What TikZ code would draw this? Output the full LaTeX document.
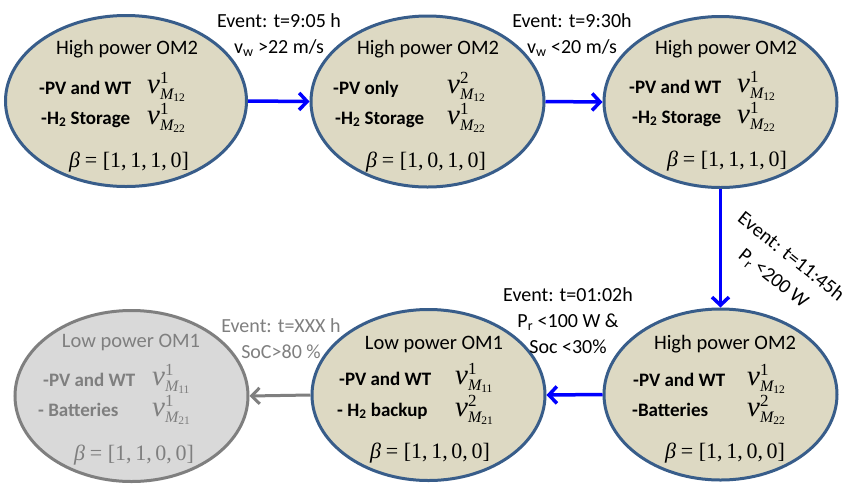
\documentclass[tikz,border=0pt]{standalone}
\usepackage{fontspec}
\setmainfont{Carlito}
\newfontfamily\tms{Liberation Serif}
\usetikzlibrary{shapes.geometric,arrows.meta}
\definecolor{omfill}{RGB}{221,217,195}
\definecolor{omborder}{RGB}{56,93,138}
\definecolor{grayfill}{RGB}{217,217,217}
\definecolor{grayborder}{RGB}{127,127,127}
\definecolor{graytext}{RGB}{127,127,127}
\definecolor{arrowblue}{RGB}{0,0,255}
% v^{sup}_{M_{sub}} in a Times-like face
\newcommand\omv[2]{$\mbox{\fontsize{29}{29}\selectfont\tms\itshape v}%
  ^{\mbox{\fontsize{17}{17}\selectfont\tms #1}}%
  _{\mbox{\fontsize{16}{16}\selectfont\tms\itshape M}_{\mbox{\fontsize{11.5}{11.5}\selectfont\tms #2}}}$}
\newcommand\ombeta[1]{{\tms\itshape β} {\tms = [#1]}}
\tikzset{
  om/.style={ellipse, draw=omborder, fill=omfill, line width=3pt,
    minimum width=233pt, minimum height=171pt, inner sep=0pt},
  omgray/.style={om, draw=grayborder, fill=grayfill},
  ttl/.style={anchor=base, inner sep=0pt, font=\fontsize{20.5}{24}\selectfont},
  lbl/.style={anchor=base west, inner sep=0pt, font=\bfseries\fontsize{19}{23}\selectfont},
  vterm/.style={anchor=base west, inner sep=0pt, font=\fontsize{23}{28}\selectfont},
  betat/.style={anchor=base, inner sep=0pt, font=\fontsize{22}{26}\selectfont},
  evt/.style={align=center, inner sep=0pt, font=\fontsize{20}{26}\selectfont},
  tr/.style={line width=3.5pt, draw=arrowblue, -{Straight Barb[length=8pt,width=17pt]}},
  trgray/.style={line width=3pt, draw=grayborder, -{Straight Barb[length=8pt,width=16pt]}},
}
\begin{document}
\begin{tikzpicture}[x=1pt,y=-1pt]
\useasboundingbox[fill=white] (0,0) rectangle (847,483);
% ellipses
\node[om, minimum width=241pt] (e1) at (126,101) {};
\node[om] (e2) at (427.5,101.5) {};
\node[om] (e3) at (720.5,102) {};
\node[om] (e4) at (720.5,394.5) {};
\node[om] (e5) at (428.5,395) {};
\node[omgray] (e6) at (131.5,396) {};
% transitions
\draw[tr] (e1.east) -- (e2.west);
\draw[tr] (e2.east) -- (e3.west);
\draw[tr] (e3.south) -- (e4.north);
\draw[tr] (e4.west) -- (e5.east);
\draw[trgray] (e5.west) -- (e6.east);
% event labels
\node[evt] (ev1) at (279,35) {Event: t=9:05 h\\v\textsubscript{w} >22 m/s};
\node[evt] (ev2) at (572,35) {Event: t=9:30h\\v\textsubscript{w} <20 m/s};
\node[evt, rotate=-38.5, font=\fontsize{20}{28}\selectfont] (ev3) at (782,268) {Event: t=11:45h\\P\textsubscript{r} <200 W};
\node[evt] (ev4) at (568,321) {Event: t=01:02h\\P\textsubscript{r} <100 W \&\\Soc <30\%};
\node[evt, text=graytext] (ev5) at (281,339) {Event: t=XXX h\\SoC>80 \%};
% e1
\node[ttl] (e1t) at (127,54) {High power OM2};
\node[lbl] (e1a) at (39,94) {-PV and WT};
\node[vterm] (e1av) at (147,93) {\omv{1}{12}};
\node[lbl] (e1b) at (41,124) {-H\textsubscript{2} Storage};
\node[vterm] (e1bv) at (147,124) {\omv{1}{22}};
\node[betat] (e1c) at (129,167) {\ombeta{1,\,1,\,1,\,0}};
% e2
\node[ttl] (e2t) at (428,54) {High power OM2};
\node[lbl] (e2a) at (333,94) {-PV only};
\node[vterm] (e2av) at (447,93) {\omv{2}{12}};
\node[lbl] (e2b) at (335,124) {-H\textsubscript{2} Storage};
\node[vterm] (e2bv) at (447,124) {\omv{1}{22}};
\node[betat] (e2c) at (426,167) {\ombeta{1,\,0,\,1,\,0}};
% e3
\node[ttl] (e3t) at (726,54) {High power OM2};
\node[lbl] (e3a) at (629,93) {-PV and WT};
\node[vterm] (e3av) at (737,92) {\omv{1}{12}};
\node[lbl] (e3b) at (632,123) {-H\textsubscript{2} Storage};
\node[vterm] (e3bv) at (737,123) {\omv{1}{22}};
\node[betat] (e3c) at (727,166) {\ombeta{1,\,1,\,1,\,0}};
% e4
\node[ttl] (e4t) at (725,349) {High power OM2};
\node[lbl] (e4a) at (633,386) {-PV and WT};
\node[vterm] (e4av) at (747,385) {\omv{1}{12}};
\node[lbl] (e4b) at (632,416) {-Batteries};
\node[vterm] (e4bv) at (747,416) {\omv{2}{22}};
\node[betat] (e4c) at (725,458) {\ombeta{1,\,1,\,0,\,0}};
% e5
\node[ttl] (e5t) at (434,349) {Low power OM1};
\node[lbl] (e5a) at (339,385) {-PV and WT};
\node[vterm] (e5av) at (455,384) {\omv{1}{11}};
\node[lbl] (e5b) at (337,416) {- H\textsubscript{2} backup};
\node[vterm] (e5bv) at (455,416) {\omv{2}{21}};
\node[betat] (e5c) at (430,458) {\ombeta{1,\,1,\,0,\,0}};
% e6 (gray)
\begin{scope}[text=graytext]
\node[ttl] (e6t) at (131,347) {Low power OM1};
\node[lbl] (e6a) at (43,386) {-PV and WT};
\node[vterm] (e6av) at (152,385) {\omv{1}{11}};
\node[lbl] (e6b) at (38,416) {- Batteries};
\node[vterm] (e6bv) at (152,416) {\omv{1}{21}};
\node[betat] (e6c) at (134,460) {\ombeta{1,\,1,\,0,\,0}};
\end{scope}
\end{tikzpicture}
\end{document}
